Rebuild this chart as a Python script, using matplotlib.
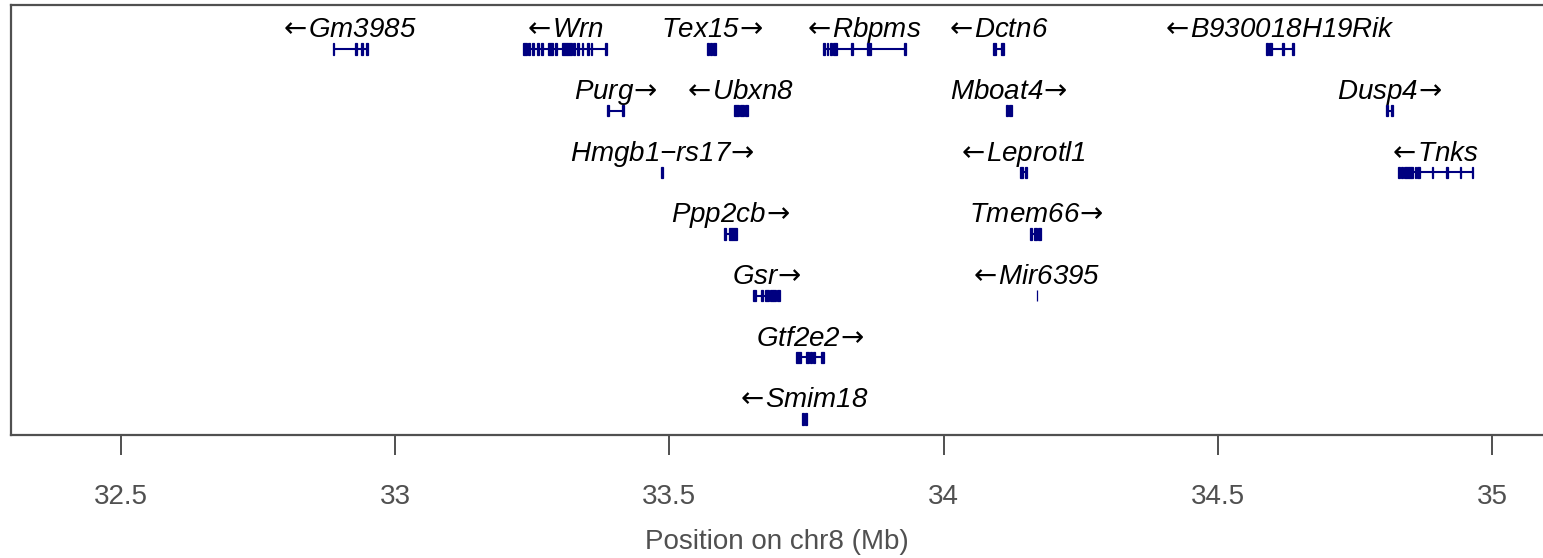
import numpy as np
import matplotlib.pyplot as plt
from matplotlib.patches import Rectangle

# dane: geny na chr8 (pozycje w Mb)
gene_names = ["Gm3985", "Wrn", "Tex15", "Rbpms", "Dctn6", "B930018H19Rik",
              "Purg", "Ubxn8", "Mboat4", "Dusp4",
              "Hmgb1\u2212rs17", "Leprotl1", "Tnks",
              "Ppp2cb", "Tmem66",
              "Gsr", "Mir6395",
              "Gtf2e2",
              "Smim18"]
gene_strand = ["-", "-", "+", "-", "-", "-",
               "+", "-", "+", "+",
               "+", "-", "-",
               "+", "+",
               "+", "-",
               "+",
               "-"]
gene_row = [1, 1, 1, 1, 1, 1,
            2, 2, 2, 2,
            3, 3, 3,
            4, 4,
            5, 5,
            6,
            7]
gene_start = [32.886, 33.233, 33.569, 33.780, 34.090, 34.588,
              33.386, 33.618, 34.114, 34.807,
              33.484, 34.139, 34.829,
              33.600, 34.158,
              33.652, 34.1695,
              33.731,
              33.742]
gene_end = [32.950, 33.386, 33.585, 33.931, 34.110, 34.639,
            33.417, 33.643, 34.125, 34.819,
            33.488, 34.152, 34.966,
            33.623, 34.178,
            33.702, 34.1705,
            33.782,
            33.751]
gene_exons = [
    [(32.886, 32.889), (32.927, 32.930), (32.938, 32.941), (32.947, 32.950)],
    [(33.233, 33.240), (33.242, 33.246), (33.249, 33.253), (33.259, 33.262),
     (33.266, 33.270), (33.279, 33.288), (33.291, 33.295), (33.304, 33.313),
     (33.314, 33.322), (33.324, 33.328), (33.332, 33.335), (33.341, 33.343),
     (33.350, 33.353), (33.357, 33.359), (33.383, 33.386)],
    [(33.569, 33.573), (33.574, 33.578), (33.579, 33.585)],
    [(33.780, 33.784), (33.787, 33.789), (33.793, 33.796), (33.798, 33.806),
     (33.831, 33.835), (33.860, 33.868), (33.928, 33.931)],
    [(34.090, 34.096), (34.104, 34.110)],
    [(34.588, 34.592), (34.594, 34.599), (34.617, 34.621), (34.635, 34.639)],
    [(33.386, 33.390), (33.413, 33.417)],
    [(33.618, 33.627), (33.629, 33.636), (33.638, 33.643)],
    [(34.114, 34.118), (34.120, 34.125)],
    [(34.807, 34.810), (34.815, 34.819)],
    [(33.484, 33.488)],
    [(34.139, 34.144), (34.148, 34.152)],
    [(34.829, 34.833), (34.834, 34.838), (34.839, 34.843), (34.844, 34.848),
     (34.849, 34.852), (34.853, 34.856), (34.859, 34.862), (34.864, 34.869),
     (34.890, 34.892), (34.917, 34.919), (34.941, 34.943), (34.963, 34.966)],
    [(33.600, 33.604), (33.609, 33.614), (33.615, 33.623)],
    [(34.158, 34.162), (34.165, 34.171), (34.172, 34.178)],
    [(33.652, 33.658), (33.667, 33.670), (33.675, 33.681), (33.683, 33.688),
     (33.689, 33.694), (33.696, 33.702)],
    [(34.1695, 34.1705)],
    [(33.731, 33.740), (33.749, 33.754), (33.756, 33.760), (33.761, 33.766),
     (33.776, 33.782)],
    [(33.742, 33.745), (33.748, 33.751)],
]

xticks = [32.5, 33, 33.5, 34, 34.5, 35]
xtick_labels = ["32.5", "33", "33.5", "34", "34.5", "35"]

gene_col = "#000080"
szary = "#505050"
fam = ["Liberation Sans", "DejaVu Sans"]
plt.rcParams["mathtext.fontset"] = "dejavusans"  # szersze strzalki

fig = plt.figure(figsize=(15.43, 5.58), dpi=100)
ax = fig.add_axes([11/1543, 123/558, 1 - 11/1543, 430/558])

exon_h = 0.18  # wysokosc eksonu w jednostkach wiersza
for i in range(len(gene_names)):
    r = gene_row[i]
    ax.plot([gene_start[i], gene_end[i]], [r, r], color=gene_col, lw=1.5,
            solid_capstyle="butt")
    for (s, e) in gene_exons[i]:
        ax.add_patch(Rectangle((s, r - exon_h/2), e - s, exon_h,
                               facecolor=gene_col, edgecolor=gene_col, lw=0.9))
    if gene_strand[i] == "+":
        lab = gene_names[i] + r"$\!\rightarrow\!$"
    else:
        lab = r"$\!\leftarrow\!$" + gene_names[i]
    ax.annotate(lab, ((gene_start[i] + gene_end[i]) / 2, r),
                xytext=(0, 8.5), textcoords="offset points",
                ha="center", va="baseline", fontsize=20, style="italic",
                family=fam, color="black")

ax.set_xlim(32.2994, 35.093)
ax.set_ylim(7.259, 0.2865)
ax.set_yticks([])
ax.set_xticks(xticks)
ax.set_xticklabels(xtick_labels, family=fam, fontsize=20, color=szary)
ax.tick_params(axis="x", direction="out", length=14.5, width=1.4,
               color=szary, pad=20.5)
for side in ["left", "top", "bottom"]:
    ax.spines[side].set_color(szary)
    ax.spines[side].set_linewidth(1.6)
ax.spines["right"].set_visible(False)
ax.set_xlabel("Position on chr8 (Mb)", family=fam, fontsize=20, color=szary,
              labelpad=14)

fig.savefig("out.png", dpi=100)
